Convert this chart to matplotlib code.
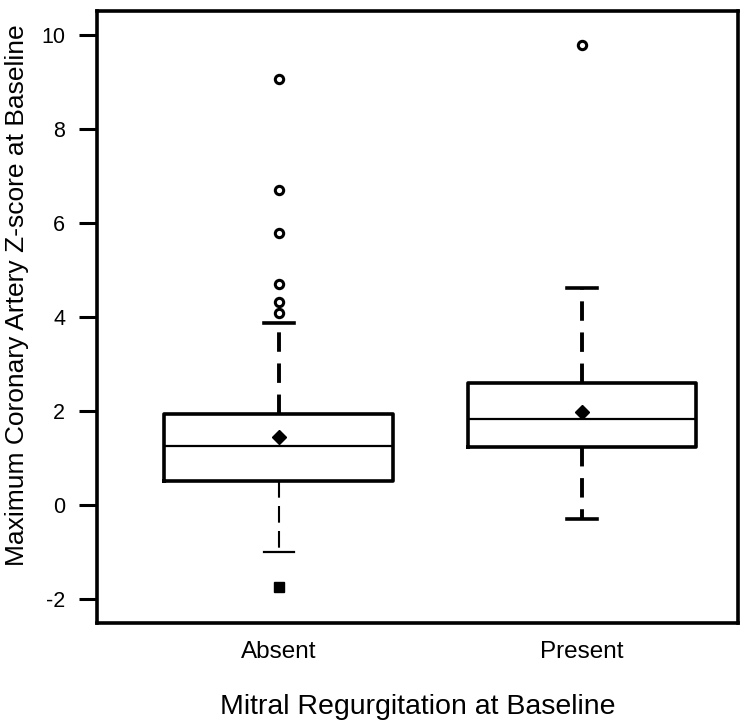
import matplotlib
matplotlib.use("Agg")
import matplotlib.pyplot as plt

plt.rcParams['font.family'] = ['Liberation Sans', 'DejaVu Sans']
plt.rcParams['axes.unicode_minus'] = False

categories = ["Absent", "Present"]
q1 = [0.52, 1.23]
median = [1.27, 1.83]
q3 = [1.93, 2.59]
whisker_low = [-0.99, -0.30]
whisker_high = [3.87, 4.61]
means = [1.45, 1.98]
open_outliers = [[9.05, 6.69, 5.79, 4.71, 4.31, 4.08], [9.78]]
filled_outliers = [[-1.74], []]

fig = plt.figure(figsize=(7.5, 7.25), dpi=100)
ax = fig.add_axes([97/750, 1-623/725, (738-97)/750, (623-11)/725])

stats = []
for i, c in enumerate(categories):
    stats.append(dict(label=c, q1=q1[i], med=median[i], q3=q3[i],
                      whislo=whisker_low[i], whishi=whisker_high[i],
                      mean=means[i], fliers=[]))

positions = [1, 2]
bp = ax.bxp(stats, positions=positions, widths=0.755, showmeans=True,
            showfliers=False, capwidths=0.1,
            boxprops=dict(color='black', linewidth=2.6),
            medianprops=dict(color='black', linewidth=1.6),
            whiskerprops=dict(color='black', linewidth=2.8, linestyle=(0, (5, 3))),
            capprops=dict(color='black', linewidth=2.6),
            meanprops=dict(marker='D', markerfacecolor='black',
                           markeredgecolor='black', markersize=7))

# lower whisker of Absent group is drawn thinner
bp['whiskers'][0].set_linewidth(1.5)
bp['whiskers'][0].set_linestyle((0, (8, 4)))
bp['caps'][0].set_linewidth(1.6)

for i, pos in enumerate(positions):
    if open_outliers[i]:
        ax.plot([pos]*len(open_outliers[i]), open_outliers[i], linestyle='none',
                marker='o', markersize=6, markerfacecolor='white',
                markeredgecolor='black', markeredgewidth=2.2)
    if filled_outliers[i]:
        ax.plot([pos]*len(filled_outliers[i]), filled_outliers[i], linestyle='none',
                marker='s', markersize=7, markerfacecolor='black',
                markeredgecolor='black')

ax.set_xlim(0.40, 2.515)
ax.set_ylim(-2.5, 10.5)
ax.set_yticks([-2, 0, 2, 4, 6, 8, 10])
ax.set_xticks(positions)
ax.set_xticklabels(categories)
ax.tick_params(axis='y', length=13, width=2.2, labelsize=15.5, pad=10)
ax.tick_params(axis='x', length=0, labelsize=17.5, pad=13)
for s in ax.spines.values():
    s.set_linewidth(2.6)

ax.set_xlabel("Mitral Regurgitation at Baseline", fontsize=20.5, labelpad=22)
ax.set_ylabel("Maximum Coronary Artery Z-score at Baseline", fontsize=19)
ax.yaxis.set_label_coords(-0.106, 0.535)

fig.savefig("out.png", dpi=100)
